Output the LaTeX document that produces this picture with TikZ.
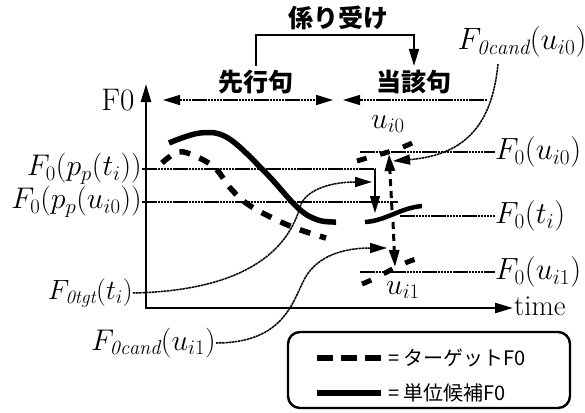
\documentclass[tikz,border=0pt]{standalone}
\usepackage{graphicx}
\usepackage{fontspec}
\newfontfamily\jp{Noto Sans CJK JP}
\usetikzlibrary{arrows.meta}
\newcommand{\mlab}[2][1.25]{\scalebox{#1}{$#2$}}
\begin{document}
\begin{tikzpicture}[x=1pt,y=-1pt,
 tip/.style={-{Triangle[length=17pt,width=10pt]}},
 bothtip/.style={{Triangle[length=17pt,width=10pt]}-{Triangle[length=17pt,width=10pt]}},
 axisline/.style={line width=2.4pt},
 guide/.style={line width=1.5pt, dash pattern=on 2.5pt off 0.6pt},
 conn/.style={line width=1.5pt, dash pattern=on 2.5pt off 0.6pt},
 solidc/.style={line width=5.5pt},
 dashc/.style={line width=5.5pt, dash pattern=on 11pt off 10pt},
 shortdash/.style={line width=5pt, dash pattern=on 10pt off 14pt},
 vdash/.style={line width=3pt, dash pattern=on 7pt off 5pt},
 lbl/.style={inner sep=0pt, font=\fontsize{24}{26}\selectfont},
 jlab/.style={inner sep=0pt, font=\jp\bfseries\fontsize{25}{27}\selectfont},
 jleg/.style={inner sep=0pt, font=\jp\fontsize{20}{22}\selectfont},
]
\useasboundingbox (0,0) rectangle (585,412);

% axes
\coordinate (o) at (146,308);
\coordinate (ytop) at (146,84);
\coordinate (xend) at (513,308);
\draw[axisline, {Triangle[length=18pt,width=10pt]}-{Triangle[length=18pt,width=10pt]}] (ytop) -- (o) -- (xend);
\node[lbl] (f0) at (118,100) {\scalebox{1.3}{F0}};
\node[lbl, anchor=west] (time) at (514,306) {\scalebox{1.2}{time}};

% phrase labels
\node[jlab] (s1) at (256,82) {先行句};
\node[jlab] (s2) at (414,82) {当該句};
\node[jlab] (kr) at (338,18) {係り受け};
\draw[line width=1.6pt, tip] ([yshift=4pt]s1.north) -- (s1.north |- 0,35) -| ([yshift=4pt]s2.north);
\coordinate (a1) at (163,100);
\coordinate (a2) at (333,100);
\coordinate (a3) at (343,100);
\coordinate (a4) at (487,100);
\draw[conn, bothtip] (a1) -- (a2);
\draw[conn, tip] (a4) -- (a3);

% left labels
\node[lbl, anchor=east] (lpt) at (142,169) {\mlab[1.2]{F_0(p_p(t_i))}};
\node[lbl, anchor=east] (lpu) at (142,202) {\mlab[1.2]{F_0(p_p(u_{i0}))}};
\node[lbl, anchor=east] (ltg) at (133,293) {\mlab[1.12]{F_{\mathit{0tgt}}(t_i)}};
\node[lbl, anchor=east] (lc1) at (216,343) {\mlab[1.2]{F_{\mathit{0cand}}(u_{i1})}};
% right labels
\node[lbl, anchor=west] (r0) at (495,152) {\mlab[1.23]{F_0(u_{i0})}};
\node[lbl, anchor=west] (rt) at (495,216) {\mlab[1.23]{F_0(t_i)}};
\node[lbl, anchor=west] (r1) at (495,272) {\mlab[1.23]{F_0(u_{i1})}};
\node[lbl] (c0) at (522,42) {\mlab[1.24]{F_{\mathit{0cand}}(u_{i0})}};
\node[lbl] (u0) at (388,124) {\mlab[1.2]{u_{i0}}};
\node[lbl] (u1) at (403,290) {\mlab[1.2]{u_{i1}}};

% guide lines
\coordinate (ppe) at (375,169);
\coordinate (ppt) at (375,213);
\draw[guide] (lpt.east) -- (ppe);
\draw[line width=1.4pt, tip] (ppe) -- (ppt);
\coordinate (pue) at (398,202);
\draw[guide] (lpu.east) -- (pue);
\coordinate (g0) at (360,152);
\coordinate (gt) at (400,216);
\coordinate (g1) at (360,272);
\draw[guide] (g0) -- (r0.west);
\draw[guide] (gt) -- (rt.west);
\draw[guide] (g1) -- (r1.west);

% connectors
\coordinate (c0s) at (498,64);
\coordinate (c0t) at (393,161);
\draw[conn, tip] (c0s) .. controls (492,125) and (465,155) .. (c0t);
\coordinate (tgt) at (372,182);
\draw[conn, tip] (ltg.east) .. controls (230,291) and (285,260) .. (300,207) .. controls (305,190) and (330,182) .. (tgt);
\coordinate (c1t) at (387,248);
\draw[conn, tip] (lc1.east) .. controls (285,343) and (293,300) .. (305,278) .. controls (318,255) and (345,248) .. (c1t);

% main curves
\draw[dashc] plot[smooth, tension=0.6] coordinates {(162,163) (178,152) (195,156) (215,168) (232,190) (252,207) (290,226) (326,238)};
\draw[solidc] plot[smooth, tension=0.6] coordinates {(169,143) (200,133) (228,138) (265,172) (298,208) (318,220) (336,222)};

% candidate segments
\draw[shortdash] (357,161) .. controls (380,154) and (400,150) .. (418,140);
\draw[shortdash] (362,284) .. controls (385,275) and (400,262) .. (424,257);
\draw[solidc, line width=4.5pt] (365,222) .. controls (385,221) and (400,208) .. (422,206);

% vertical dashed arrows
\coordinate (v0) at (392,210);
\coordinate (v0t) at (389,154);
\coordinate (v1) at (393,222);
\coordinate (v1t) at (395,267);
\draw[vdash, tip] (v0) -- (v0t);
\draw[vdash, tip] (v1) -- (v1t);

% legend
\node[draw, rounded corners=12pt, line width=2.4pt, minimum width=282pt, minimum height=76pt, inner sep=0pt] (leg) at (429,370) {};
\node[jleg, anchor=west] (l1) at (388,358) {= ターゲットF0};
\node[jleg, anchor=west] (l2) at (388,393) {= 単位候補F0};
\draw[line width=6pt, dash pattern=on 16pt off 8pt] ([xshift=-71pt]l1.west) -- ([xshift=-5pt]l1.west);
\draw[line width=6pt] ([xshift=-71pt]l2.west) -- ([xshift=-7pt]l2.west);
\end{tikzpicture}
\end{document}
